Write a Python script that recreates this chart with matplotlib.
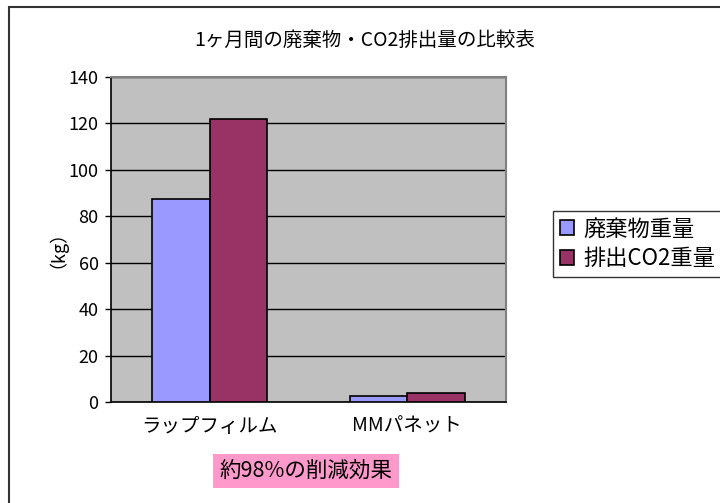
"""Monthly waste / CO2 emission comparison bar chart (wrap film vs MM panet)."""

import matplotlib

matplotlib.use("Agg")
import matplotlib.pyplot as plt
import numpy as np
from matplotlib.patches import Rectangle

plt.rcParams["font.family"] = ["Noto Sans CJK JP", "DejaVu Sans"]

categories = ["ラップフィルム", "MMパネット"]
series_names = ["廃棄物重量", "排出CO2重量"]
waste_kg = [87.5, 2.4]
co2_kg = [122.0, 3.7]
series_colors = ["#9999FF", "#993366"]

title = "1ヶ月間の廃棄物・CO2排出量の比較表"
ylabel = "（kg）"
note = "約98%の削減効果"
yticks = [0, 20, 40, 60, 80, 100, 120, 140]

fig = plt.figure(figsize=(7.2, 5.03), dpi=100)
ax = fig.add_axes([111 / 720, 1 - 402 / 503, 395 / 720, 325 / 503])

x = np.arange(len(categories))
width = 0.29
ax.bar(x - width / 2, waste_kg, width, color=series_colors[0], edgecolor="black",
       linewidth=1.2, label=series_names[0], zorder=3)
ax.bar(x + width / 2, co2_kg, width, color=series_colors[1], edgecolor="black",
       linewidth=1.2, label=series_names[1], zorder=3)

ax.set_xlim(-0.5, 1.5)
ax.set_ylim(0, 140)
ax.set_yticks(yticks)
ax.set_xticks(x)
ax.set_xticklabels(categories)
ax.tick_params(axis="y", labelsize=13, length=4, direction="out", width=1, pad=5)
ax.tick_params(axis="x", labelsize=14, length=0, pad=10)
ax.set_facecolor("#C0C0C0")
ax.yaxis.grid(True, color="black", linewidth=1, zorder=1)
ax.set_axisbelow(True)
for side in ("top", "right"):
    ax.spines[side].set_color("#808080")
    ax.spines[side].set_linewidth(1.5)
for side in ("left", "bottom"):
    ax.spines[side].set_color("black")
    ax.spines[side].set_linewidth(1.2)

ax.set_ylabel(ylabel, fontsize=13, labelpad=8)

fig.text(365 / 720, 1 - 40 / 503, title, ha="center", va="center", fontsize=14)

fig.legend(loc="upper left", bbox_to_anchor=(553 / 720, 1 - 211 / 503),
           fontsize=16, frameon=True, fancybox=False, edgecolor="black",
           handlelength=0.65, handleheight=0.65, handletextpad=0.4,
           borderpad=0.3, labelspacing=0.3, borderaxespad=0)

fig.text(306 / 720, 1 - 471 / 503, note, ha="center", va="center", fontsize=15.5,
         bbox=dict(boxstyle="square,pad=0.3", facecolor="#FF99CC", edgecolor="none"))

fig.patches.append(Rectangle((9 / 720, -0.1), 1.2, 1 - 7 / 503 + 0.1,
                             transform=fig.transFigure, fill=False,
                             edgecolor="#333333", linewidth=1.5))

fig.savefig("out.png", dpi=100)
